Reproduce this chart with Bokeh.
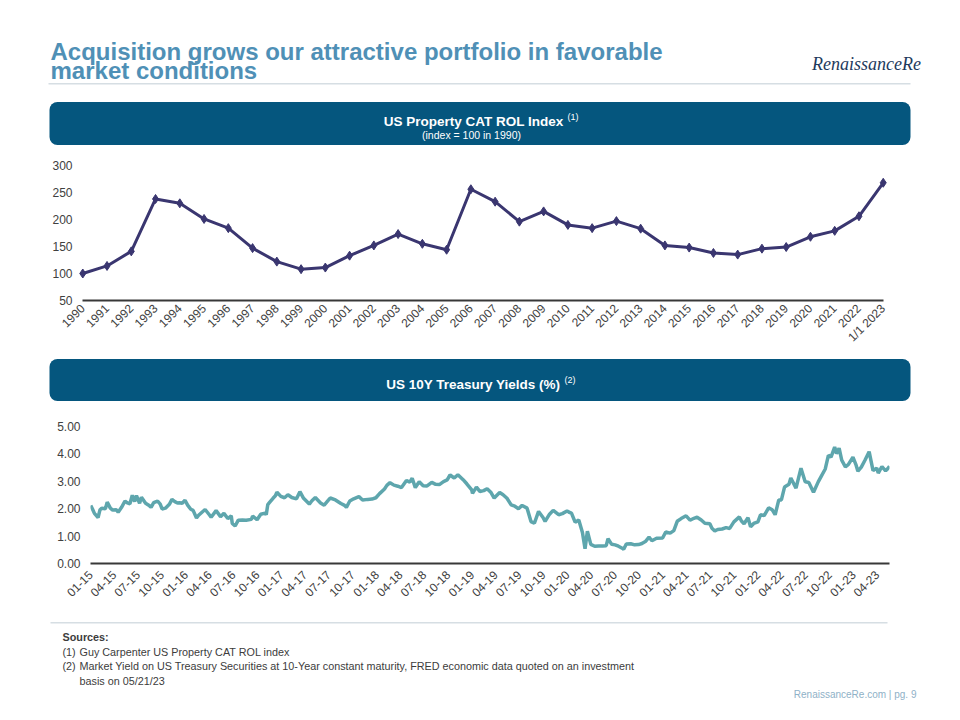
import math
from datetime import datetime
from bokeh.plotting import figure
from bokeh.layouts import column
from bokeh.models import Range1d, FixedTicker, NumeralTickFormatter
from bokeh.core.properties import value
from bokeh.embed import file_html
from bokeh.resources import INLINE

# ---------------- data ----------------
rol_labels = ["1990", "1991", "1992", "1993", "1994", "1995", "1996", "1997", "1998", "1999",
              "2000", "2001", "2002", "2003", "2004", "2005", "2006", "2007", "2008", "2009",
              "2010", "2011", "2012", "2013", "2014", "2015", "2016", "2017", "2018", "2019",
              "2020", "2021", "2022", "1/1 2023"]
rol_index = [100, 114, 141, 238, 230, 201, 184, 147, 122, 108,
             111, 133, 152, 173, 155, 144, 256, 233, 196, 215,
             190, 184, 197, 183, 152, 148, 138, 135, 146, 149,
             168, 179, 206, 268]
rol_yticks = [50, 100, 150, 200, 250, 300]

yield_dates = [
    "2015-01-02", "2015-01-09", "2015-01-16", "2015-01-30", "2015-02-06", "2015-02-13", "2015-02-27",
    "2015-03-06", "2015-03-18", "2015-03-27", "2015-04-10", "2015-04-17", "2015-04-30", "2015-05-13",
    "2015-05-22", "2015-06-01", "2015-06-10", "2015-06-19", "2015-06-26", "2015-07-08", "2015-07-15",
    "2015-07-31", "2015-08-12", "2015-08-21", "2015-08-31", "2015-09-15", "2015-09-25", "2015-10-02",
    "2015-10-15", "2015-10-30", "2015-11-09", "2015-11-20", "2015-11-30", "2015-12-08", "2015-12-18",
    "2015-12-29",
    "2016-01-08", "2016-01-20", "2016-01-29", "2016-02-11", "2016-02-19", "2016-03-04", "2016-03-15",
    "2016-03-31", "2016-04-07", "2016-04-26", "2016-05-13", "2016-05-26", "2016-06-10", "2016-06-23",
    "2016-06-27", "2016-07-08", "2016-07-20", "2016-08-05", "2016-08-19", "2016-09-08", "2016-09-13",
    "2016-09-30", "2016-10-14", "2016-10-31", "2016-11-04", "2016-11-10", "2016-11-16", "2016-11-30",
    "2016-12-09", "2016-12-15", "2016-12-30",
    "2017-01-13", "2017-01-26", "2017-02-10", "2017-02-28", "2017-03-13", "2017-03-27", "2017-04-18",
    "2017-04-28", "2017-05-11", "2017-05-31", "2017-06-14", "2017-06-30", "2017-07-07", "2017-07-27",
    "2017-08-17", "2017-08-31", "2017-09-07", "2017-09-20", "2017-10-05", "2017-10-25", "2017-11-08",
    "2017-11-28", "2017-12-14", "2017-12-29",
    "2018-01-12", "2018-01-31", "2018-02-09", "2018-02-21", "2018-03-08", "2018-03-23", "2018-04-06",
    "2018-04-25", "2018-05-08", "2018-05-17", "2018-05-29", "2018-06-13", "2018-06-28", "2018-07-13",
    "2018-07-31", "2018-08-15", "2018-08-29", "2018-09-14", "2018-09-28", "2018-10-09", "2018-10-25",
    "2018-11-08", "2018-11-28", "2018-12-12", "2018-12-31",
    "2019-01-03", "2019-01-18", "2019-01-31", "2019-02-15", "2019-02-28", "2019-03-15", "2019-03-27",
    "2019-04-17", "2019-04-30", "2019-05-15", "2019-05-31", "2019-06-14", "2019-06-28", "2019-07-12",
    "2019-07-31", "2019-08-15", "2019-08-28", "2019-09-13", "2019-09-30", "2019-10-08", "2019-10-25",
    "2019-11-08", "2019-11-29", "2019-12-13", "2019-12-31",
    "2020-01-08", "2020-01-17", "2020-01-31", "2020-02-14", "2020-02-28", "2020-03-09", "2020-03-18",
    "2020-03-31", "2020-04-15", "2020-04-30", "2020-05-15", "2020-05-29", "2020-06-05", "2020-06-19",
    "2020-07-02", "2020-07-15", "2020-07-31", "2020-08-04", "2020-08-14", "2020-08-31", "2020-09-15",
    "2020-09-30", "2020-10-13", "2020-10-26", "2020-11-09", "2020-11-20", "2020-12-08", "2020-12-31",
    "2021-01-12", "2021-01-29", "2021-02-12", "2021-02-25", "2021-03-12", "2021-03-31", "2021-04-15",
    "2021-04-30", "2021-05-12", "2021-05-28", "2021-06-11", "2021-06-30", "2021-07-08", "2021-07-19",
    "2021-07-30", "2021-08-16", "2021-08-31", "2021-09-14", "2021-09-30", "2021-10-21", "2021-10-29",
    "2021-11-08", "2021-11-23", "2021-12-03", "2021-12-15", "2021-12-31",
    "2022-01-10", "2022-01-24", "2022-02-10", "2022-02-24", "2022-03-07", "2022-03-21", "2022-03-31",
    "2022-04-12", "2022-04-29", "2022-05-06", "2022-05-26", "2022-06-14", "2022-06-30", "2022-07-14",
    "2022-08-01", "2022-08-19", "2022-08-31", "2022-09-15", "2022-09-27", "2022-10-07", "2022-10-21",
    "2022-10-28", "2022-11-07", "2022-11-17", "2022-12-01", "2022-12-12", "2022-12-30",
    "2023-01-10", "2023-01-18", "2023-01-31", "2023-02-14", "2023-03-02", "2023-03-17", "2023-03-31",
    "2023-04-06", "2023-04-20", "2023-05-04", "2023-05-12", "2023-05-19",
]
yield_values = [
    2.12, 1.98, 1.83, 1.68, 1.95, 2.02, 2.00,
    2.24, 2.02, 1.95, 1.96, 1.87, 2.05, 2.28,
    2.21, 2.18, 2.49, 2.26, 2.48, 2.20, 2.42,
    2.20, 2.13, 2.05, 2.22, 2.28, 2.17, 1.99,
    2.02, 2.16, 2.34, 2.26, 2.21, 2.22, 2.20,
    2.31,
    2.13, 1.98, 1.94, 1.66, 1.76, 1.88, 1.97,
    1.78, 1.69, 1.93, 1.71, 1.83, 1.64, 1.74,
    1.46, 1.37, 1.58, 1.59, 1.58, 1.61, 1.73,
    1.60, 1.80, 1.84, 1.78, 2.15, 2.22, 2.38,
    2.47, 2.60, 2.45,
    2.40, 2.51, 2.41, 2.36, 2.62, 2.38, 2.17,
    2.29, 2.41, 2.21, 2.13, 2.31, 2.39, 2.32,
    2.19, 2.12, 2.05, 2.28, 2.36, 2.44, 2.32,
    2.34, 2.35, 2.40,
    2.55, 2.72, 2.85, 2.95, 2.86, 2.82, 2.77,
    3.03, 2.97, 3.11, 2.77, 2.98, 2.84, 2.83,
    2.96, 2.89, 2.88, 2.99, 3.05, 3.23, 3.12,
    3.24, 3.06, 2.91, 2.69,
    2.56, 2.79, 2.63, 2.66, 2.73, 2.59, 2.39,
    2.59, 2.51, 2.38, 2.14, 2.09, 2.00, 2.12,
    2.02, 1.53, 1.47, 1.90, 1.68, 1.54, 1.80,
    1.94, 1.78, 1.82, 1.92,
    1.87, 1.84, 1.51, 1.59, 1.13, 0.54, 1.18,
    0.70, 0.63, 0.64, 0.64, 0.65, 0.91, 0.70,
    0.68, 0.63, 0.55, 0.52, 0.71, 0.72, 0.68,
    0.69, 0.73, 0.80, 0.96, 0.83, 0.92, 0.93,
    1.15, 1.11, 1.20, 1.54, 1.64, 1.74, 1.58,
    1.65, 1.69, 1.59, 1.47, 1.45, 1.29, 1.19,
    1.24, 1.26, 1.31, 1.28, 1.52, 1.70, 1.55,
    1.45, 1.67, 1.34, 1.46, 1.52,
    1.78, 1.75, 2.03, 1.96, 1.78, 2.32, 2.32,
    2.79, 2.89, 3.12, 2.75, 3.48, 2.98, 2.96,
    2.60, 2.98, 3.19, 3.45, 3.95, 3.88, 4.25,
    4.01, 4.21, 3.77, 3.53, 3.61, 3.88,
    3.62, 3.37, 3.52, 3.77, 4.08, 3.39, 3.48,
    3.30, 3.54, 3.38, 3.46, 3.55,
]
yield_tick_labels = ["01-15", "04-15", "07-15", "10-15", "01-16", "04-16", "07-16", "10-16",
                     "01-17", "04-17", "07-17", "10-17", "01-18", "04-18", "07-18", "10-18",
                     "01-19", "04-19", "07-19", "10-19", "01-20", "04-20", "07-20", "10-20",
                     "01-21", "04-21", "07-21", "10-21", "01-22", "04-22", "07-22", "10-22",
                     "01-23", "04-23"]
yield_yticks = [0, 1, 2, 3, 4, 5]

# ---------------- styles ----------------
FONT = value("Liberation Sans")
W = 952
TITLE_C = "#4f90b6"
BOX_C = "#05567e"
NAVY = "#3a3670"
TEAL = "#5ea6ad"
AX_C = "#404040"


def canvas(y0, y1):
    p = figure(width=W, height=y1 - y0, x_range=Range1d(0, W), y_range=Range1d(y1, y0),
               x_axis_type=None, y_axis_type=None, toolbar_location=None,
               output_backend="svg", min_border=0, outline_line_color=None,
               frame_align=False)
    p.background_fill_color = "white"
    p.border_fill_color = "white"
    return p


def txt(p, x, y, s, size, color, bold=False, align="left", font=FONT, italic=False):
    style = "bold" if bold else ("italic" if italic else "normal")
    p.text(x=[x], y=[y], text=[s], text_font=font, text_font_size=size,
           text_font_style=style, text_color=color, text_align=align,
           text_baseline="alphabetic")


def style_chart(p):
    p.background_fill_color = "white"
    p.border_fill_color = "white"
    p.outline_line_color = None
    p.xgrid.visible = False
    p.ygrid.visible = False
    for ax in (p.xaxis, p.yaxis):
        ax.major_tick_line_color = None
        ax.minor_tick_line_color = None
        ax.major_tick_out = 0
        ax.major_tick_in = 0
        ax.major_label_text_font = "Liberation Sans"
        ax.major_label_text_font_size = "12px"
        ax.major_label_text_color = AX_C
    p.yaxis.axis_line_color = None
    p.xaxis.axis_line_color = "#383838"
    p.xaxis.axis_line_width = 2.2
    p.xaxis.major_label_orientation = math.pi / 4


# ---------------- header ----------------
A = canvas(0, 150)
txt(A, 50, 51, "Acquisition grows our attractive portfolio in favorable", "24px", TITLE_C, bold=True)
txt(A, 50, 70, "market conditions", "24px", TITLE_C, bold=True)
txt(A, 866, 63, "RenaissanceRe", "18px", "#1d3a5c", align="center",
    font=value("Liberation Serif"), italic=True)
A.line(x=[48, 910], y=[83.3, 83.3], line_color="#d6dee3", line_width=1.5)
A.quad(left=49, right=910, top=101.5, bottom=144.5, fill_color=BOX_C, line_color=None,
       border_radius=8)
txt(A, 563, 121, "US Property CAT ROL Index", "13.5px", "white", bold=True, align="right")
txt(A, 567, 116.5, "(1)", "9px", "white")
txt(A, 471, 134.5, "(index = 100 in 1990)", "10.5px", "white", align="center")

# ---------------- chart 1 ----------------
xs = list(range(len(rol_labels)))
B = figure(width=W, height=202, x_range=Range1d(-0.3, len(xs) - 1 + 0.3),
           y_range=Range1d(rol_yticks[0], rol_yticks[-1]),
           toolbar_location=None, output_backend="svg", frame_align=False,
           min_border_left=75, min_border_right=62, min_border_top=15, min_border_bottom=52)
style_chart(B)
B.xaxis.ticker = FixedTicker(ticks=xs)
B.xaxis.major_label_overrides = {i: lab for i, lab in zip(xs, rol_labels)}
B.xaxis.bounds = (xs[0], xs[-1])
B.xaxis.major_label_standoff = 6
B.yaxis.ticker = FixedTicker(ticks=rol_yticks)
B.yaxis.major_label_standoff = 3
B.line(xs, rol_index, line_color=NAVY, line_width=3)
B.scatter(xs, rol_index, marker="diamond", size=9, fill_color=NAVY, line_color=NAVY)

# ---------------- header 2 ----------------
C = canvas(352, 408)
C.quad(left=49, right=910, top=358.5, bottom=400.5, fill_color=BOX_C, line_color=None,
       border_radius=8)
txt(C, 560, 384, "US 10Y Treasury Yields (%)", "13.5px", "white", bold=True, align="right")
txt(C, 564, 379, "(2)", "9px", "white")

# ---------------- chart 2 ----------------
ydates = [datetime.strptime(d, "%Y-%m-%d") for d in yield_dates]
tick_dates = [datetime(2000 + int(l[3:]), int(l[:2]), 1) for l in yield_tick_labels]
epoch = datetime(1970, 1, 1)
tick_ms = [int((d - epoch).total_seconds() * 1000) for d in tick_dates]

D = figure(width=W, height=212, x_axis_type="datetime",
           x_range=Range1d(tick_dates[0], ydates[-1]),
           y_range=Range1d(yield_yticks[0], yield_yticks[-1]),
           toolbar_location=None, output_backend="svg", frame_align=False,
           min_border_left=90, min_border_right=63, min_border_top=18, min_border_bottom=57)
style_chart(D)
D.xaxis.ticker = FixedTicker(ticks=tick_ms)
D.xaxis.major_label_overrides = {ms: lab for ms, lab in zip(tick_ms, yield_tick_labels)}
D.xaxis.major_label_standoff = 9
D.yaxis.ticker = FixedTicker(ticks=yield_yticks)
D.yaxis.formatter = NumeralTickFormatter(format="0.00")
D.yaxis.major_label_standoff = 10
D.line(ydates, yield_values, line_color=TEAL, line_width=3.5)

# ---------------- footer ----------------
E = canvas(620, 712)
E.line(x=[50, 887], y=[622.3, 622.3], line_color="#d6dee3", line_width=1.5)
SRC_C = "#3c3c3c"
SRC_S = "10.8px"
txt(E, 62, 636, "Sources:", SRC_S, SRC_C, bold=True)
txt(E, 62, 651, "(1)", SRC_S, SRC_C)
txt(E, 79, 651, "Guy Carpenter US Property CAT ROL index", SRC_S, SRC_C)
txt(E, 62, 665, "(2)", SRC_S, SRC_C)
txt(E, 79, 665, "Market Yield on US Treasury Securities at 10-Year constant maturity, FRED economic data quoted on an investment", SRC_S, SRC_C)
txt(E, 79, 680, "basis on 05/21/23", SRC_S, SRC_C)
txt(E, 921.5, 694, "RenaissanceRe.com  |  pg. 9", "10px", "#8fb1c7", align="right")

layout = column(A, B, C, D, E, spacing=0)
open("out.html", "w").write(file_html(layout, INLINE))
